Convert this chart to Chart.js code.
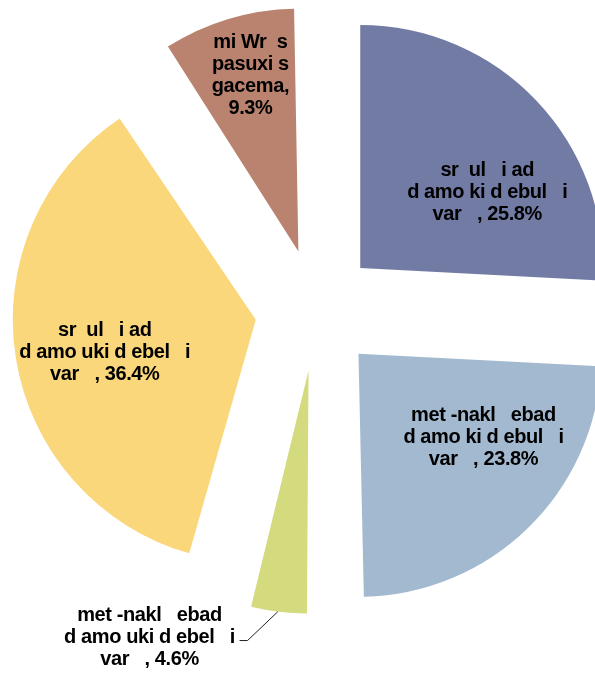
<!DOCTYPE html>
<html>
<head>
<meta charset="utf-8">
<script src="https://cdn.jsdelivr.net/npm/chart.js@4.4.0/dist/chart.umd.min.js"></script>
<style>
  html, body { margin: 0; padding: 0; background: #fff; }
  #wrap { width: 595px; height: 673px; }
</style>
</head>
<body>
<div id="wrap"><canvas id="mycanvas" width="595" height="673"></canvas></div>
<script>
// categories (as printed in the source, broken georgian font) and shares in %
var categories = [
    ["sr  ul   i ad", "d amo ki d ebul   i", "var"],
    ["met -nakl   ebad", "d amo ki d ebul   i", "var"],
    ["met -nakl   ebad", "d amo uki d ebel   i", "var"],
    ["sr  ul   i ad", "d amo uki d ebel   i", "var"],
    ["mi Wr  s", "pasuxi s", "gacema"]
];
var values = [25.8, 23.8, 4.6, 36.4, 9.3];
var colors = ["#717ba3", "#a2b9d0", "#d4db7e", "#fad77b", "#ba836f"];

var R = 243;       // pie radius
var SHIFT = 61;    // how far each slice is pulled out

// label centre, relative to the pulled-out slice tip
var labelShift = [[127, -76], [125, 84], [-159, 267], [-151, 33], [-48, -176]];

function labelLines(i) {
    var c = categories[i];
    var lines = c.slice(0, c.length - 1);
    var last = c[c.length - 1];
    if (i == 4) {
        lines.push(last + ",");
        lines.push(values[i] + "%");
    } else {
        lines.push(last + "   , " + values[i] + "%");
    }
    return lines;
}

var pieLabels = {
    id: "pieLabels",
    beforeDatasetsDraw: function(chart) {
        // keep small slices at the same radius as the big ones
        var arcs = chart.getDatasetMeta(0).data;
        arcs.forEach(function(a) {
            var circ = a.endAngle - a.startAngle;
            var fix = 1 - Math.sin(Math.min(Math.PI, circ));
            a.outerRadius = R - SHIFT * fix;
        });
    },
    afterDatasetsDraw: function(chart) {
        var ctx = chart.ctx;
        var arcs = chart.getDatasetMeta(0).data;
        ctx.save();
        ctx.font = "bold 20px 'Liberation Sans', Arial, sans-serif";
        ctx.letterSpacing = "-0.4px";
        ctx.fillStyle = "#000";
        ctx.textAlign = "center";
        ctx.textBaseline = "middle";
        arcs.forEach(function(a, i) {
            var mid = (a.startAngle + a.endAngle) / 2;
            var tx = a.x + Math.cos(mid) * SHIFT;
            var ty = a.y + Math.sin(mid) * SHIFT;
            var lx = tx + labelShift[i][0];
            var ly = ty + labelShift[i][1];
            var lines = labelLines(i);
            var lh = 22;
            lines.forEach(function(t, k) {
                ctx.fillText(t, lx, ly + (k - (lines.length - 1) / 2) * lh);
            });
            if (i == 2) {
                // leader line for the small slice
                var ox = tx + Math.cos(mid) * R;
                var oy = ty + Math.sin(mid) * R;
                ctx.beginPath();
                ctx.strokeStyle = "#222";
                ctx.lineWidth = 1;
                ctx.moveTo(ox - 1, oy);
                ctx.lineTo(lx + 98, ly + 3);
                ctx.lineTo(lx + 90, ly + 3);
                ctx.stroke();
            }
        });
        ctx.restore();
    }
};

var ctx = document.getElementById("mycanvas");
var pieChart = new Chart(ctx, {
    type: 'pie',
    data: {
        labels: categories.map(function(c) { return c.join(" "); }),
        datasets: [{
            data: values,
            backgroundColor: colors,
            borderWidth: 0,
            offset: SHIFT * 4,
            radius: R
        }]
    },
    options: {
        responsive: false,
        animation: false,
        layout: { padding: { left: 37, right: 0, top: 0, bottom: 53 } },
        plugins: {
            legend: { display: false },
            tooltip: { enabled: false }
        }
    },
    plugins: [pieLabels]
});
</script>
</body>
</html>
